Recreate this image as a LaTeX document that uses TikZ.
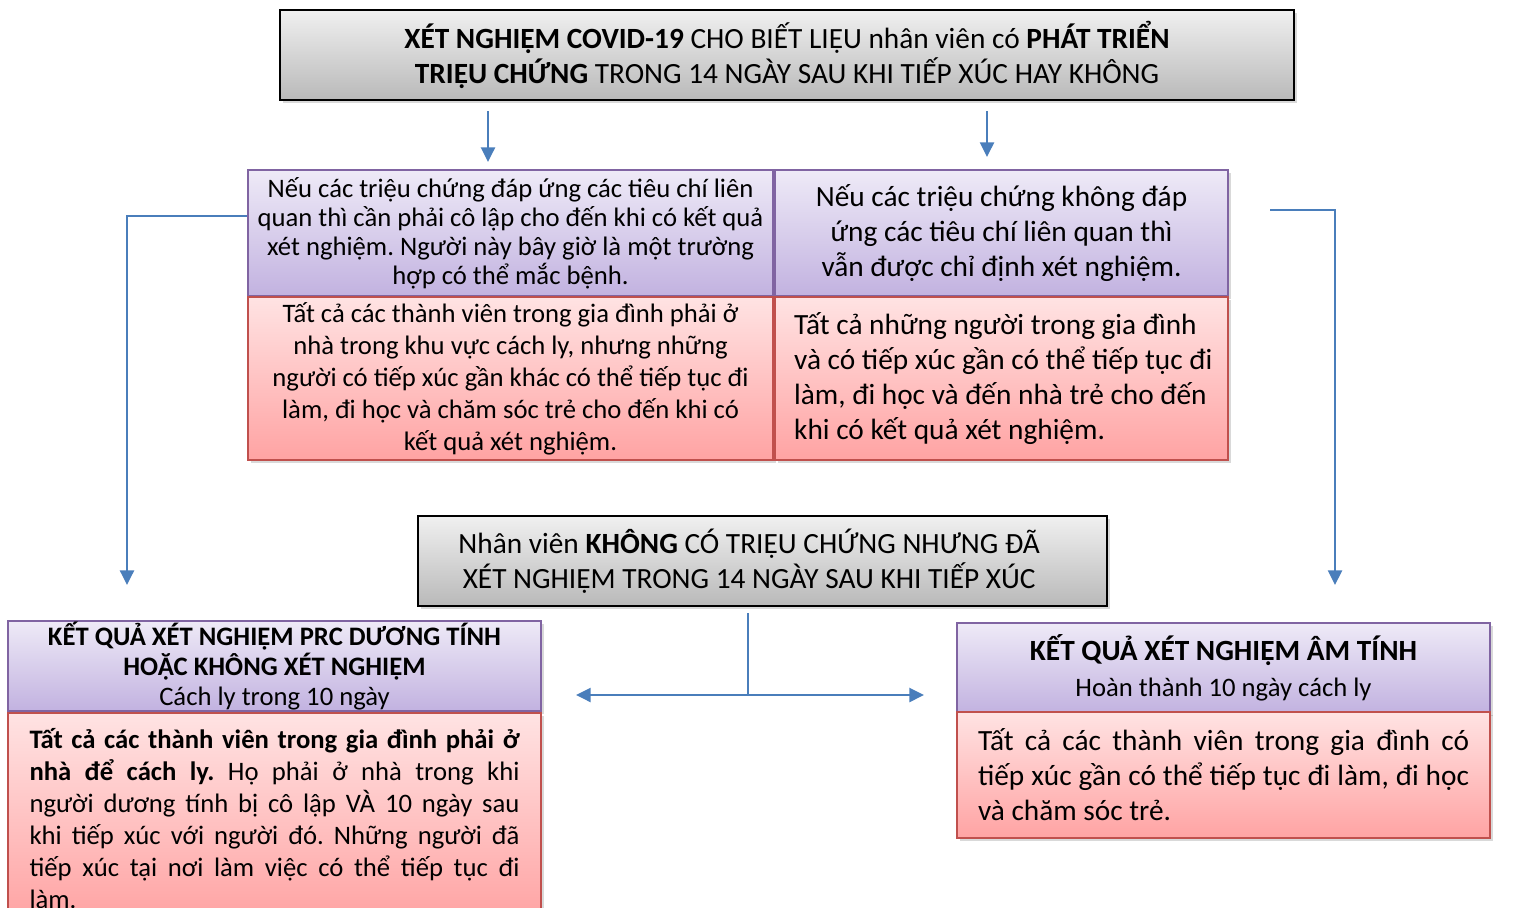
\documentclass[tikz,border=0pt]{standalone}
\usepackage{fontspec}
\setmainfont{Carlito}
\frenchspacing
\usetikzlibrary{arrows.meta,shadows,calc}
\definecolor{linkblue}{HTML}{4A7EBB}
\definecolor{lilactop}{HTML}{EEEAF7}
\definecolor{lilacbot}{HTML}{C2B2E0}
\definecolor{lilacline}{HTML}{8064A2}
\definecolor{rosetop}{HTML}{FFE3E3}
\definecolor{rosebot}{HTML}{FFA3A3}
\definecolor{roseline}{HTML}{C0504D}
\definecolor{greytop}{HTML}{F0F0F0}
\definecolor{greybot}{HTML}{B9B9B9}
\tikzset{>={Triangle[width=10.5pt,length=11pt]}}
\tikzset{
  box/.style={draw, line width=1.5pt, inner sep=0pt, align=center,
    drop shadow={shadow xshift=2pt, shadow yshift=-2pt, opacity=0.3}},
  greybox/.style={box, draw=black, top color=greytop, bottom color=greybot},
  lilacbox/.style={box, draw=lilacline, top color=lilactop, bottom color=lilacbot},
  rosebox/.style={box, draw=roseline, top color=rosetop, bottom color=rosebot},
  flow/.style={linkblue, line width=1.8pt}
}

\begin{document}
\begin{tikzpicture}[x=0.75pt, y=-0.75pt]
    \useasboundingbox (0,0) rectangle (1515,907);
    % boxes
    \node[greybox, minimum width=760.5pt, minimum height=67.5pt, font=\fontsize{22}{26.25}\selectfont] (ask) at (787,55)
        {\textbf{XÉT NGHIỆM COVID-19} CHO BIẾT LIỆU nhân viên có \textbf{PHÁT TRIỂN}\\
         \textbf{TRIỆU CHỨNG} TRONG 14 NGÀY SAU KHI TIẾP XÚC HAY KHÔNG};
    \node[lilacbox, minimum width=393.75pt, minimum height=94.5pt, font=\fontsize{20}{21.75}\selectfont] (critYes) at (510.5,233)
        {Nếu các triệu chứng đáp ứng các tiêu chí liên\\ quan thì cần phải cô lập cho đến khi có kết quả\\
         xét nghiệm. Người này bây giờ là một trường\\ hợp có thể mắc bệnh.};
    \node[lilacbox, minimum width=339.75pt, minimum height=94.5pt, font=\fontsize{22}{26.25}\selectfont] (critNo) at (1001.5,233)
        {Nếu các triệu chứng không đáp\\ ứng các tiêu chí liên quan thì\\ vẫn được chỉ định xét nghiệm.};
    \node[rosebox, minimum width=393.75pt, minimum height=122.25pt, font=\fontsize{20}{24}\selectfont] (homeYes) at (510.5,378.5)
        {Tất cả các thành viên trong gia đình phải ở\\ nhà trong khu vực cách ly, nhưng những\\
         người có tiếp xúc gần khác có thể tiếp tục đi\\ làm, đi học và chăm sóc trẻ cho đến khi có\\ kết quả xét nghiệm.};
    \node[rosebox, minimum width=339.75pt, minimum height=122.25pt, text width=333pt, align=flush left, font=\fontsize{22}{26.25}\selectfont] (homeNo) at (1001.5,378.5)
        {\hspace*{11pt}Tất cả những người trong gia đình\\ \hspace*{11pt}và có tiếp xúc gần có thể tiếp tục đi\\
         \hspace*{11pt}làm, đi học và đến nhà trẻ cho đến\\ \hspace*{11pt}khi có kết quả xét nghiệm.};
    \node[greybox, minimum width=516.75pt, minimum height=67.5pt, font=\fontsize{22}{26.25}\selectfont] (noSym) at (762.5,561)
        {Nhân viên \textbf{KHÔNG} CÓ TRIỆU CHỨNG NHƯNG ĐÃ\hspace*{20pt}\\ XÉT NGHIỆM TRONG 14 NGÀY SAU KHI TIẾP XÚC\hspace*{20pt}};
    \node[lilacbox, minimum width=399.75pt, minimum height=67.5pt, font=\fontsize{20}{22.5}\selectfont] (posHead) at (274.5,666)
        {\textbf{KẾT QUẢ XÉT NGHIỆM PRC DƯƠNG TÍNH}\\ \textbf{HOẶC KHÔNG XÉT NGHIỆM}\\ Cách ly trong 10 ngày};
    \node[rosebox, anchor=north, text width=367.5pt, inner xsep=16.125pt, inner ysep=9.5pt, align=justify, font=\fontsize{20}{24}\selectfont] (posBody) at (274.5,712)
        {\strut\textbf{Tất cả các thành viên trong gia đình phải ở\linebreak nhà để cách ly.} Họ phải ở nhà trong khi\linebreak
         người dương tính bị cô lập VÀ 10 ngày sau\linebreak khi tiếp xúc với người đó. Những người đã\linebreak
         tiếp xúc tại nơi làm việc có thể tiếp tục đi\linebreak làm.};
    \node[lilacbox, minimum width=399.75pt, minimum height=67.5pt, font=\fontsize{20}{27}\selectfont] (negHead) at (1223.5,668)
        {{\fontsize{22}{27}\selectfont\bfseries KẾT QUẢ XÉT NGHIỆM ÂM TÍNH}\\ Hoàn thành 10 ngày cách ly};
    \node[rosebox, minimum width=399.75pt, minimum height=94.5pt, text width=368.25pt, align=justify, font=\fontsize{22}{26.25}\selectfont] (negBody) at (1223.5,775)
        {Tất cả các thành viên trong gia đình có\linebreak tiếp xúc gần có thể tiếp tục đi làm, đi học\linebreak và chăm sóc trẻ.};
    % connectors
    \coordinate (colL) at (488,0);
    \coordinate (colR) at (987,0);
    \coordinate (dropL) at (127,585);
    \coordinate (startR) at (1270,210);
    \coordinate (dropR) at (1335,585);
    \coordinate (fork) at (748,695);
    \draw[flow,->] ([yshift=-7.5pt]ask.south -| colL) -- ([yshift=5.25pt]critYes.north -| colL);
    \draw[flow,->] ([yshift=-7.5pt]ask.south -| colR) -- ([yshift=9pt]critNo.north -| colR);
    \draw[flow,->] ([yshift=12.75pt]critYes.west) -| (dropL);
    \draw[flow,->] (startR) -| (dropR);
    \draw[flow] ([yshift=-4.5pt]noSym.south -| fork) -- (fork);
    \draw[flow,->] (fork) -- ([xshift=25.5pt]posHead.east |- fork);
    \draw[flow,->] (fork) -- ([xshift=-24pt]negHead.west |- fork);
\end{tikzpicture}
\end{document}
